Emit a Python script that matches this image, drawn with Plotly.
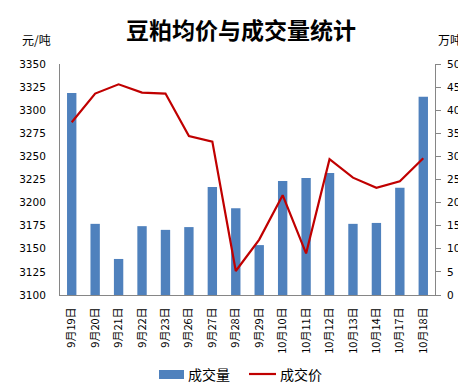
import plotly.graph_objects as go

dates = ["9月19日", "9月20日", "9月21日", "9月22日", "9月23日", "9月26日", "9月27日", "9月28日",
         "9月29日", "10月10日", "10月11日", "10月12日", "10月13日", "10月14日", "10月17日", "10月18日"]
volume = [43.7, 15.4, 7.8, 14.9, 14.1, 14.7, 23.4, 18.8, 10.8, 24.7, 25.3, 26.4, 15.4, 15.6, 23.2, 42.9]
price = [3287, 3318, 3328, 3319, 3318, 3272, 3266, 3126, 3160, 3208, 3145, 3247, 3227, 3216, 3223, 3248]

W, H = 466, 384
L, R, T, B = 52, 39, 56, 97
PW, PH = W - L - R, H - T - B

def px(x):
    return (x - L) / PW

def py(y):
    return (H - B - y) / PH

AX = "#868686"
TICKF = dict(family="DejaVu Sans", size=10.5, color="#000000")
CJK = "Noto Sans CJK SC"

fig = go.Figure()
fig.add_trace(go.Bar(x=dates, y=volume, name="成交量", marker=dict(color="#4F81BD", line=dict(width=0)),
                     yaxis="y"))
fig.add_trace(go.Scatter(x=dates, y=price, name="成交价", mode="lines",
                         line=dict(color="#C00000", width=2.2), yaxis="y2"))

fig.update_layout(
    width=W, height=H,
    margin=dict(l=L, r=R, t=T, b=B),
    paper_bgcolor="white", plot_bgcolor="white",
    bargap=0.6,
    showlegend=False,
    title=dict(text="<b>豆粕均价与成交量统计</b>", x=0.5, xanchor="center", y=1 - 23 / H, yanchor="middle",
               font=dict(family=CJK, size=23, color="#000000")),
    xaxis=dict(type="category", showgrid=False, showline=True, linecolor=AX, linewidth=1,
               ticks="", tickangle=-90, tickfont=dict(family=CJK, size=11, color="#000000"),
               zeroline=False, automargin=False, ticklabelstandoff=7),
    yaxis=dict(side="right", range=[0, 50], dtick=5, showgrid=False, showline=True, linecolor=AX,
               linewidth=1, ticks="outside", ticklen=5, tickcolor=AX, tickfont=TICKF, zeroline=False,
               ticklabelstandoff=4, automargin=False),
    yaxis2=dict(side="left", overlaying="y", range=[3100, 3350], dtick=25, showgrid=False,
                showline=True, linecolor=AX, linewidth=1, ticks="", tickfont=TICKF, zeroline=False,
                ticklabelstandoff=11, automargin=False),
)

ann_font = dict(family=CJK, size=12, color="#000000")
leg_font = dict(family=CJK, size=14, color="#000000")
fig.add_annotation(text="元/吨", x=px(12), y=py(32), xref="paper", yref="paper", xanchor="left",
                   yanchor="middle", showarrow=False, font=ann_font)
fig.add_annotation(text="万吨", x=px(456), y=py(32), xref="paper", yref="paper", xanchor="right",
                   yanchor="middle", showarrow=False, font=ann_font)

# legend drawn by hand (Excel-style wide swatches)
fig.add_shape(type="rect", xref="paper", yref="paper", x0=px(151), x1=px(176), y0=py(371), y1=py(362),
              fillcolor="#4F81BD", line=dict(width=0))
fig.add_annotation(text="成交量", x=px(178), y=py(366), xref="paper", yref="paper", xanchor="left",
                   yanchor="middle", showarrow=False, font=leg_font)
fig.add_shape(type="line", xref="paper", yref="paper", x0=px(241), x1=px(268), y0=py(366), y1=py(366),
              line=dict(color="#C00000", width=2.2))
fig.add_annotation(text="成交价", x=px(270), y=py(366), xref="paper", yref="paper", xanchor="left",
                   yanchor="middle", showarrow=False, font=leg_font)

fig.write_html("out.html")
